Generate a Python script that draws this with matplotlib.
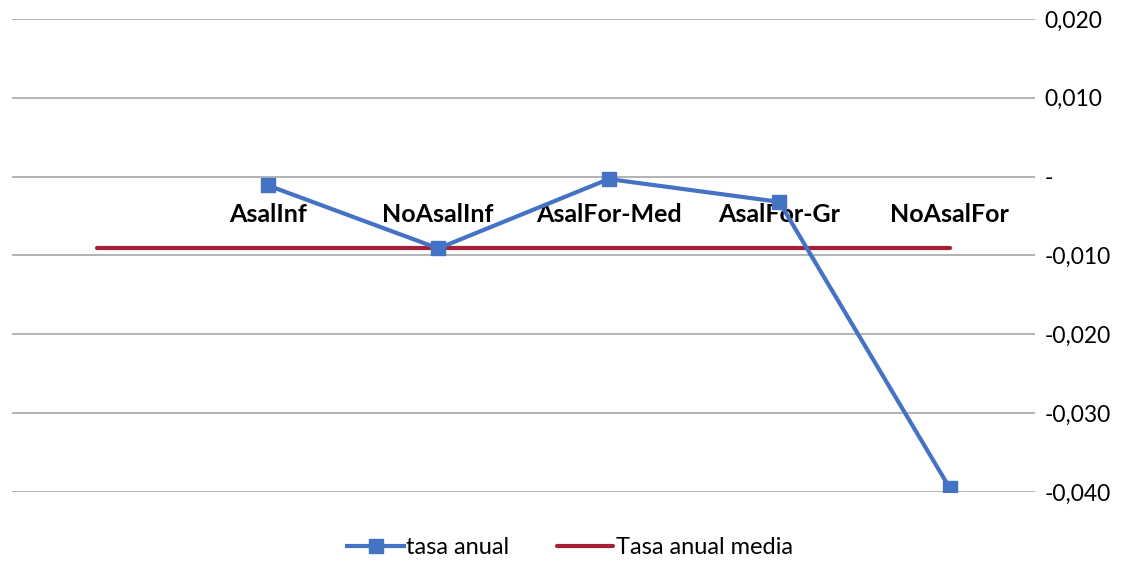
import matplotlib
matplotlib.use("Agg")
import matplotlib.pyplot as plt
from matplotlib.ticker import FuncFormatter

plt.rcParams['font.family'] = ['Lato', 'DejaVu Sans']

categories = ["", "AsalInf", "NoAsalInf", "AsalFor-Med", "AsalFor-Gr", "NoAsalFor"]
tasa_anual = [None, -0.0011, -0.0091, -0.0003, -0.0032, -0.0395]
tasa_media = [-0.0091] * 6
yticks = [0.02, 0.01, 0.0, -0.01, -0.02, -0.03, -0.04]

blue = "#4472C4"
red = "#A61F34"

fig = plt.figure(figsize=(11.4, 5.61), dpi=100)
ax = fig.add_axes([12 / 1140, 1 - 492 / 561, (1035 - 12) / 1140, (492 - 19) / 561])

x = list(range(len(categories)))
bx = [i for i, v in zip(x, tasa_anual) if v is not None]
by = [v for v in tasa_anual if v is not None]

ax.plot(x, tasa_media, color=red, lw=3, solid_capstyle="round", label="Tasa anual media", zorder=3)
ax.plot(bx, by, color=blue, lw=3, marker="s", ms=10, label="tasa anual", zorder=4)

for i, c in enumerate(categories):
    if c:
        ax.text(i, -0.0048, c, ha="center", va="center", fontsize=18, fontweight="bold", color="black")

ax.set_xlim(-0.5, len(categories) - 0.5)
ax.set_ylim(-0.04, 0.02)
ax.set_yticks(yticks)
ax.yaxis.tick_right()
ax.yaxis.set_major_formatter(FuncFormatter(lambda v, p: "-" if abs(v) < 1e-12 else ("%.3f" % v).replace(".", ",")))
ax.tick_params(axis="y", length=0, pad=7, labelsize=16.5)
for lab in ax.get_yticklabels():
    lab.set_horizontalalignment("left")
ax.set_xticks([])
ax.grid(axis="y", color="#A6A6A6", lw=1.2)
ax.set_axisbelow(True)
for s in ax.spines.values():
    s.set_visible(False)

h, l = ax.get_legend_handles_labels()
fig.legend([h[1], h[0]], [l[1], l[0]], loc="center", bbox_to_anchor=(0.5, 1 - 548 / 561),
           ncol=2, frameon=False, fontsize=17, handlelength=2.4, handletextpad=0.1, columnspacing=2.0)

fig.savefig("out.png", dpi=100)
